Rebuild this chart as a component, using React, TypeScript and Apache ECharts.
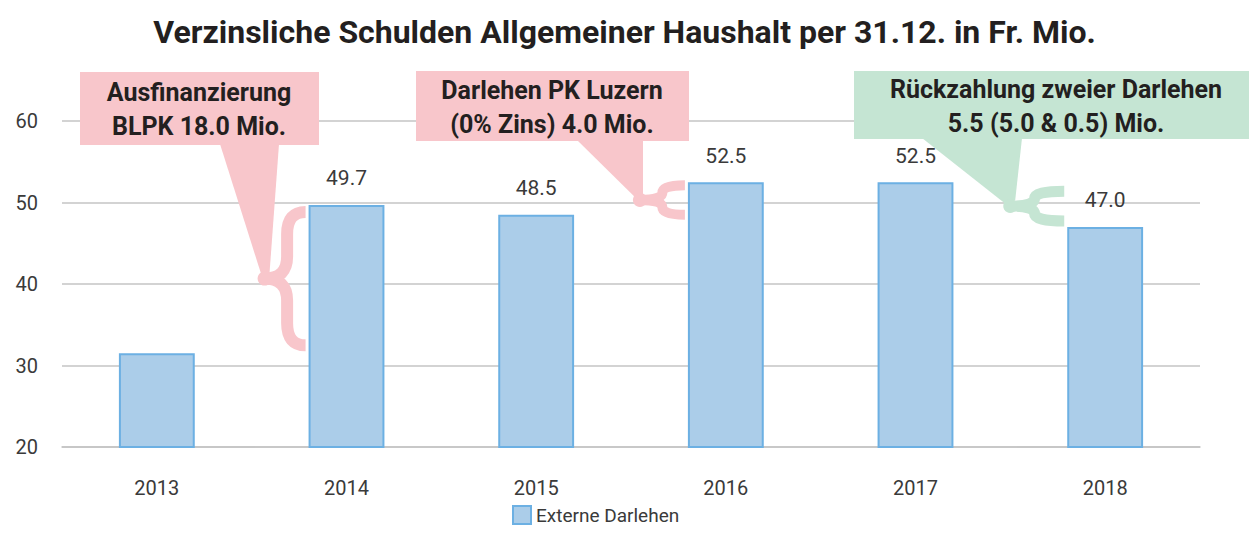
import React, { useEffect, useRef } from "react";
import * as echarts from "echarts";

const titleText = "Verzinsliche Schulden Allgemeiner Haushalt per 31.12. in Fr. Mio.";
const categories = ["2013", "2014", "2015", "2016", "2017", "2018"];
const values = [31.5, 49.7, 48.5, 52.5, 52.5, 47.0];
const showValueLabel = [false, true, true, true, true, true];
const seriesName = "Externe Darlehen";
const yMin = 20;
const yMax = 60;
const yInterval = 10;

// callouts: text lines, the two bars whose difference the brace spans
const calloutLines = [
  ["Ausfinanzierung", "BLPK 18.0 Mio."],
  ["Darlehen PK Luzern", "(0% Zins) 4.0 Mio."],
  ["Rückzahlung zweier Darlehen", "5.5 (5.0 & 0.5) Mio."],
];
const calloutFrom = [0, 2, 4];
const calloutTo = [1, 3, 5];

const PINK = "#f8c6cb";
const GREEN = "#c5e5d3";
const FONT = "Roboto, 'Open Sans', sans-serif";

let registered = false;
function registerBrace() {
  if (registered) return;
  registered = true;
  const Brace = (echarts.graphic as any).extendShape({
    shape: { xr: 0, yt: 0, yb: 0, d: 40, r: 20, k: 0.45 },
    buildPath(ctx: any, s: any) {
      const xl = s.xr - s.d;
      const xm = s.xr - s.d * s.k;
      const ym = (s.yt + s.yb) / 2;
      const r = Math.min(s.r, (s.yb - s.yt) / 4);
      ctx.moveTo(s.xr, s.yt);
      ctx.quadraticCurveTo(xm, s.yt, xm, s.yt + r);
      ctx.lineTo(xm, ym - r);
      ctx.quadraticCurveTo(xm, ym, xl, ym);
      ctx.quadraticCurveTo(xm, ym, xm, ym + r);
      ctx.lineTo(xm, s.yb - r);
      ctx.quadraticCurveTo(xm, s.yb, s.xr, s.yb);
    },
  });
  (echarts.graphic as any).registerShape("brace", Brace);
}

export default function App() {
  const ref = useRef<HTMLDivElement>(null);
  useEffect(() => {
    if (!ref.current) return;
    registerBrace();
    const chart = echarts.init(ref.current, undefined, { renderer: "svg" });
    chart.setOption({
      animation: false,
      backgroundColor: "#ffffff",
      title: {
        text: titleText,
        left: "center",
        top: 11,
        textStyle: { fontFamily: FONT, fontWeight: "bold", fontSize: 32, color: "#231f20" },
      },
      grid: { left: 62, right: 49, top: 121, bottom: 86, containLabel: false },
      legend: {
        data: [seriesName],
        left: 512,
        top: 505,
        padding: 0,
        itemWidth: 18,
        itemHeight: 18,
        itemGap: 6,
        icon: "rect",
        textStyle: { fontFamily: FONT, fontSize: 19, color: "#3a3a3a" },
        itemStyle: { color: "#abcde9", borderColor: "#6cb0e3", borderWidth: 2 },
      },
      xAxis: {
        type: "category",
        data: categories,
        axisLine: { show: true, lineStyle: { color: "#c4c4c4", width: 1.5 } },
        axisTick: { show: false },
        axisLabel: { fontFamily: FONT, fontSize: 20, color: "#3a3a3a", margin: 31 },
      },
      yAxis: {
        type: "value",
        min: yMin,
        max: yMax,
        interval: yInterval,
        axisLine: { show: false },
        axisTick: { show: false },
        axisLabel: { fontFamily: FONT, fontSize: 20, color: "#3a3a3a", margin: 24 },
        splitLine: { lineStyle: { color: "#c4c4c4", width: 1.5 } },
      },
      series: [
        {
          name: seriesName,
          type: "bar",
          barWidth: "40%",
          data: values.map((v, i) => ({
            value: v,
            label: { show: showValueLabel[i] },
          })),
          itemStyle: { color: "#abcde9", borderColor: "#6cb0e3", borderWidth: 2 },
          label: {
            show: true,
            position: "top",
            distance: 16,
            fontFamily: FONT,
            fontSize: 21,
            color: "#3a3a3a",
            formatter: (p: any) => Number(p.value).toFixed(1),
          },
        },
      ],
    });

    const px = (i: number, v: number) => chart.convertToPixel({ gridIndex: 0 }, [i, v]) as number[];
    const band = px(1, yMin)[0] - px(0, yMin)[0];
    const barLeft = (i: number) => px(i, yMin)[0] - band * 0.2;

    // layout of the callouts (annotation boxes, not data)
    const boxes = [
      { x: 80, y: 72, w: 239, h: 73, fill: PINK, tx: 199, p1: 220, p2: 279 },
      { x: 416, y: 71, w: 273, h: 70, fill: PINK, tx: 552, p1: 577, p2: 643 },
      { x: 854, y: 71, w: 404, h: 68, fill: GREEN, tx: 1056, p1: 922, p2: 1022 },
    ];
    const braceCfg = [
      { d: 45, top: 7, bot: -8, lw: 12, r: 22, k: 0.45 },
      { d: 49, top: 3, bot: 0, lw: 10, r: 20, k: 0.5 },
      { d: 58, top: 9, bot: -6, lw: 11, r: 20, k: 0.55 },
    ];

    const elements: any[] = [];
    boxes.forEach((b, n) => {
      const cfg = braceCfg[n];
      const fromV = values[calloutFrom[n]];
      const toV = values[calloutTo[n]];
      const yA = px(calloutTo[n], toV)[1];
      const yB = px(calloutFrom[n], fromV)[1];
      const yt = Math.min(yA, yB) + cfg.top;
      const yb = Math.max(yA, yB) + cfg.bot;
      const xr = barLeft(calloutTo[n]) - 3;
      const xl = xr - cfg.d;
      const ym = (yt + yb) / 2;
      // pointer
      elements.push({
        type: "polygon",
        shape: {
          points: [
            [b.p1, b.y + b.h - 1],
            [b.p2, b.y + b.h - 1],
            [n === 1 ? b.p2 : xl + 9, n === 1 ? ym - 5 : ym - 6],
            [xl + 2, ym],
          ],
        },
        style: { fill: b.fill },
        z: 10,
      });
      // brace
      elements.push({
        type: "brace",
        shape: { xr, yt, yb, d: cfg.d - 4, r: cfg.r, k: cfg.k },
        style: { stroke: b.fill, fill: "none", lineWidth: cfg.lw, lineJoin: "round" },
        z: 10,
      });
      elements.push({
        type: "circle",
        shape: { cx: xl + 4, cy: ym, r: 7 },
        style: { fill: b.fill },
        z: 10,
      });
      // box
      elements.push({
        type: "rect",
        shape: { x: b.x, y: b.y, width: b.w, height: b.h },
        style: { fill: b.fill },
        z: 11,
      });
      elements.push({
        type: "text",
        x: b.tx,
        y: b.y + b.h / 2 + 1,
        style: {
          text: calloutLines[n].join("\n"),
          font: `bold 25px ${FONT}`,
          fill: "#231f20",
          align: "center",
          verticalAlign: "middle",
          lineHeight: 34,
        },
        z: 12,
      });
    });
    chart.setOption({ graphic: { elements } });

    return () => chart.dispose();
  }, []);
  return (
    <div
      ref={ref}
      style={{ position: "fixed", left: 0, top: 0, width: 1249, height: 533, background: "#fff" }}
    />
  );
}
